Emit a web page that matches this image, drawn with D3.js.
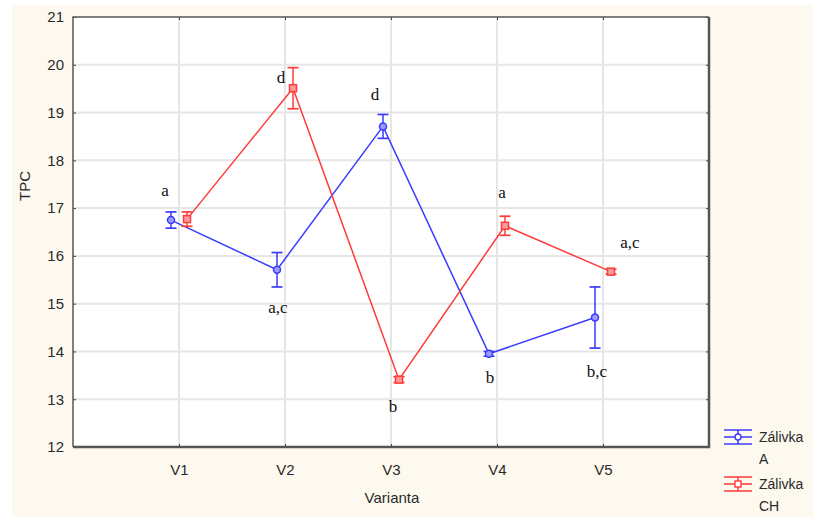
<!DOCTYPE html>
<html>
<head>
<meta charset="utf-8">
<script src="https://cdn.jsdelivr.net/npm/d3@7/dist/d3.min.js"></script>
<style>
  html, body { margin: 0; padding: 0; background: #ffffff; }
  svg { display: block; }
</style>
</head>
<body>
<svg id="chart" width="813" height="517"></svg>
<script>
// ---- data ----
const categories = ["V1", "V2", "V3", "V4", "V5"];
const yTicks = [12, 13, 14, 15, 16, 17, 18, 19, 20, 21];
const seriesNames = ["Zálivka A", "Zálivka CH"];
const meanA  = [16.75, 15.71, 18.71, 13.95, 14.71];
const errA   = [0.17, 0.36, 0.25, 0.05, 0.64];
const meanCH = [16.77, 19.51, 13.41, 16.63, 15.67];
const errCH  = [0.15, 0.43, 0.06, 0.20, 0.05];
const lettersA  = ["a", "a,c", "d", "b", "b,c"];
const lettersCH = ["", "d", "b", "a", "a,c"];

// ---- layout ----
const W = 813, H = 517;
const plot = { left: 73, top: 17, right: 709, bottom: 447 };
const blue = "#3a3aff", red = "#ff3a3a";
const textColor = "#2a2a2a";
const seriesOffset = [-8, 8];
const letterOffsetA  = [[-6, -24], [1, 43], [-8, -26], [1, 29], [2, 59]];
const letterOffsetCH = [[0, 0], [-12, -5], [-6, 32], [-3, -28], [19, -24]];

const svg = d3.select("#chart");

// background
svg.append("rect").attr("x", 12).attr("y", 5).attr("width", W - 12).attr("height", H - 5)
  .attr("fill", "#fef9ef");
svg.append("rect").attr("x", plot.left).attr("y", plot.top)
  .attr("width", plot.right - plot.left).attr("height", plot.bottom - plot.top)
  .attr("fill", "#ffffff");

const x = d3.scalePoint().domain(categories).range([plot.left, plot.right]).padding(1);
const y = d3.scaleLinear().domain([12, 21]).range([plot.bottom, plot.top]);

// grid
const grid = svg.append("g");
grid.selectAll("line.h").data(yTicks.filter(t => t > 12 && t < 21)).join("line")
  .attr("x1", plot.left).attr("x2", plot.right)
  .attr("y1", d => y(d)).attr("y2", d => y(d))
  .attr("stroke", "#e6e6e6").attr("stroke-width", 2);
grid.selectAll("line.v").data(categories).join("line")
  .attr("y1", plot.top).attr("y2", plot.bottom)
  .attr("x1", d => x(d)).attr("x2", d => x(d))
  .attr("stroke", "#e6e6e6").attr("stroke-width", 2);

const axisFont = "Arial, 'Liberation Sans', sans-serif";

// axes
const yAxis = d3.axisLeft(y).tickValues(yTicks).tickSize(-3).tickPadding(9);
const gy = svg.append("g").attr("transform", `translate(${plot.left},0)`).call(yAxis);
gy.select(".domain").remove();
gy.selectAll(".tick line").attr("stroke", "#444");
gy.selectAll("text").attr("font-family", axisFont)
  .attr("font-size", 15).attr("fill", textColor);

const yAxisR = d3.axisRight(y).tickValues(yTicks).tickSize(-3).tickFormat("");
const gyr = svg.append("g").attr("transform", `translate(${plot.right},0)`).call(yAxisR);
gyr.select(".domain").remove();
gyr.selectAll(".tick line").attr("stroke", "#444");

const xAxis = d3.axisBottom(x).tickSize(-3).tickPadding(17);
const gx = svg.append("g").attr("transform", `translate(0,${plot.bottom})`).call(xAxis);
gx.select(".domain").remove();
gx.selectAll(".tick line").attr("stroke", "#444");
gx.selectAll("text").attr("font-family", axisFont)
  .attr("font-size", 15).attr("fill", textColor);

const xAxisT = d3.axisTop(x).tickSize(-3).tickFormat("");
const gxt = svg.append("g").attr("transform", `translate(0,${plot.top})`).call(xAxisT);
gxt.select(".domain").remove();
gxt.selectAll(".tick line").attr("stroke", "#444");

// frame
svg.append("path")
  .attr("d", `M${plot.left},${plot.bottom} V${plot.top} H${plot.right}`)
  .attr("fill", "none").attr("stroke", "#555").attr("stroke-width", 1.5);
svg.append("path")
  .attr("d", `M${plot.right},${plot.top} V${plot.bottom} H${plot.left}`)
  .attr("fill", "none").attr("stroke", "#555").attr("stroke-width", 2.5);

// axis titles
svg.append("text").attr("x", 392).attr("y", 503).attr("text-anchor", "middle")
  .attr("font-family", axisFont).attr("font-size", 15)
  .attr("fill", textColor).text("Varianta");
svg.append("text").attr("transform", "translate(30,186) rotate(-90)").attr("text-anchor", "middle")
  .attr("font-family", axisFont).attr("font-size", 15)
  .attr("fill", textColor).text("TPC");

// series
const series = [
  { name: seriesNames[0], mean: meanA, err: errA, letters: lettersA, off: letterOffsetA, color: blue, shape: "circle", dx: seriesOffset[0] },
  { name: seriesNames[1], mean: meanCH, err: errCH, letters: lettersCH, off: letterOffsetCH, color: red, shape: "square", dx: seriesOffset[1] }
];

const line = d3.line().x(d => d[0]).y(d => d[1]);

series.forEach(s => {
  const pts = categories.map((c, i) => [x(c) + s.dx, y(s.mean[i])]);
  const g = svg.append("g");
  g.append("path").attr("d", line(pts)).attr("fill", "none")
    .attr("stroke", s.color).attr("stroke-width", 1.5);
  // error bars
  categories.forEach((c, i) => {
    const cx = x(c) + s.dx;
    const y1 = y(s.mean[i] + s.err[i]), y2 = y(s.mean[i] - s.err[i]);
    g.append("line").attr("x1", cx).attr("x2", cx).attr("y1", y1).attr("y2", y2)
      .attr("stroke", s.color).attr("stroke-width", 1.5);
    [y1, y2].forEach(yy => g.append("line").attr("x1", cx - 5.5).attr("x2", cx + 5.5)
      .attr("y1", yy).attr("y2", yy).attr("stroke", s.color).attr("stroke-width", 1.7));
  });
  // markers
  if (s.shape === "circle") {
    g.selectAll("circle").data(pts).join("circle")
      .attr("cx", d => d[0]).attr("cy", d => d[1]).attr("r", 3.5)
      .attr("fill", "#9a9aff").attr("stroke", s.color).attr("stroke-width", 1.5);
  } else {
    g.selectAll("rect").data(pts).join("rect")
      .attr("x", d => d[0] - 3.5).attr("y", d => d[1] - 3.5).attr("width", 7).attr("height", 7)
      .attr("fill", "#ff9a9a").attr("stroke", s.color).attr("stroke-width", 1.5);
  }
  // letters
  g.selectAll("text").data(pts.map((p, i) => ({ p, t: s.letters[i], o: s.off[i] })).filter(d => d.t))
    .join("text")
    .attr("x", d => d.p[0] + d.o[0]).attr("y", d => d.p[1] + d.o[1])
    .attr("text-anchor", "middle")
    .attr("font-family", "'Times New Roman', 'Liberation Serif', serif").attr("font-size", 17)
    .attr("fill", "#111").text(d => d.t);
});

// legend
const legendRows = [437, 484];
series.forEach((s, i) => {
  const cy = legendRows[i], cx = 738;
  const g = svg.append("g");
  [-7, 0, 7].forEach(dy => g.append("line").attr("x1", 724).attr("x2", 752)
    .attr("y1", cy + dy).attr("y2", cy + dy).attr("stroke", s.color).attr("stroke-width", 1.5));
  g.append("line").attr("x1", cx).attr("x2", cx).attr("y1", cy - 7).attr("y2", cy + 7)
    .attr("stroke", s.color).attr("stroke-width", 1.5);
  if (s.shape === "circle") {
    g.append("circle").attr("cx", cx).attr("cy", cy).attr("r", 3).attr("fill", "#ffffff")
      .attr("stroke", s.color).attr("stroke-width", 1.4);
  } else {
    g.append("rect").attr("x", cx - 3).attr("y", cy - 3).attr("width", 6).attr("height", 6)
      .attr("fill", "#ffffff").attr("stroke", s.color).attr("stroke-width", 1.4);
  }
  const parts = s.name.split(" ");
  const t = g.append("text").attr("font-family", axisFont)
    .attr("font-size", 14).attr("fill", textColor);
  parts.forEach((p, k) => t.append("tspan").attr("x", 759).attr("y", cy + 5 + k * 22).text(p));
});
</script>
</body>
</html>
